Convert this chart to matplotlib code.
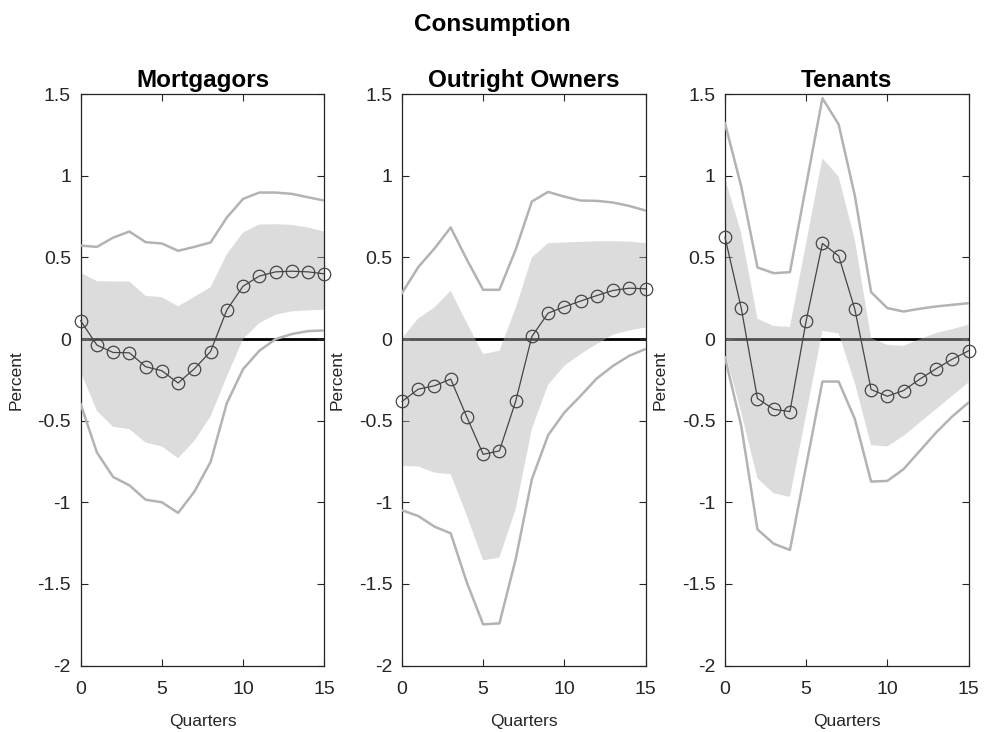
import matplotlib
matplotlib.use("Agg")
import matplotlib.pyplot as plt
import numpy as np
from matplotlib.ticker import FuncFormatter

plt.rcParams['font.family'] = ['Liberation Sans', 'DejaVu Sans']
plt.rcParams['axes.unicode_minus'] = False

quarters = list(range(16))
titles = ["Mortgagors", "Outright Owners", "Tenants"]

mort_mean = [0.112, -0.037, -0.082, -0.084, -0.169, -0.194, -0.269, -0.182, -0.076, 0.178, 0.324, 0.386, 0.412, 0.416, 0.412, 0.400]
mort_hi90 = [0.573, 0.565, 0.622, 0.659, 0.594, 0.586, 0.541, 0.565, 0.592, 0.745, 0.859, 0.898, 0.898, 0.890, 0.869, 0.849]
mort_hi68 = [0.406, 0.355, 0.353, 0.353, 0.265, 0.257, 0.200, 0.259, 0.318, 0.520, 0.653, 0.702, 0.704, 0.700, 0.684, 0.659]
mort_lo68 = [-0.20, -0.44, -0.538, -0.552, -0.634, -0.658, -0.730, -0.624, -0.474, -0.23, 0.0, 0.098, 0.149, 0.17, 0.176, 0.18]
mort_lo90 = [-0.399, -0.695, -0.845, -0.896, -0.984, -1.0, -1.065, -0.935, -0.753, -0.393, -0.184, -0.072, 0.0, 0.031, 0.049, 0.053]

own_mean = [-0.382, -0.307, -0.286, -0.245, -0.479, -0.706, -0.685, -0.382, 0.016, 0.159, 0.198, 0.233, 0.267, 0.298, 0.312, 0.308]
own_hi90 = [0.282, 0.441, 0.555, 0.684, 0.486, 0.302, 0.302, 0.547, 0.843, 0.902, 0.873, 0.849, 0.847, 0.837, 0.816, 0.788]
own_hi68 = [0.004, 0.127, 0.194, 0.296, 0.098, -0.092, -0.071, 0.19, 0.5, 0.588, 0.592, 0.596, 0.6, 0.6, 0.598, 0.588]
own_lo68 = [-0.777, -0.781, -0.818, -0.828, -1.084, -1.356, -1.339, -1.043, -0.55, -0.28, -0.164, -0.092, -0.031, 0.027, 0.053, 0.071]
own_lo90 = [-1.049, -1.084, -1.149, -1.19, -1.493, -1.748, -1.742, -1.35, -0.859, -0.589, -0.45, -0.348, -0.241, -0.164, -0.102, -0.061]

ten_mean = [0.624, 0.190, -0.364, -0.43, -0.444, 0.112, 0.586, 0.510, 0.182, -0.309, -0.35, -0.315, -0.245, -0.182, -0.123, -0.072]
ten_hi90 = [1.322, 0.935, 0.439, 0.404, 0.41, 0.943, 1.476, 1.316, 0.878, 0.288, 0.19, 0.169, 0.186, 0.2, 0.21, 0.22]
ten_hi68 = [0.986, 0.649, 0.125, 0.08, 0.075, 0.59, 1.108, 0.996, 0.608, 0.006, -0.035, -0.041, 0.0, 0.037, 0.061, 0.088]
ten_lo68 = [-0.08, -0.45, -0.853, -0.945, -0.967, -0.46, 0.05, 0.035, -0.27, -0.65, -0.658, -0.593, -0.511, -0.429, -0.348, -0.266]
ten_lo90 = [-0.112, -0.532, -1.166, -1.254, -1.292, -0.777, -0.26, -0.26, -0.49, -0.873, -0.869, -0.797, -0.685, -0.573, -0.474, -0.389]

panels = [
    (mort_mean, mort_hi90, mort_hi68, mort_lo68, mort_lo90),
    (own_mean, own_hi90, own_hi68, own_lo68, own_lo90),
    (ten_mean, ten_hi90, ten_hi68, ten_lo68, ten_lo90),
]

W, H = 985, 732
fig = plt.figure(figsize=(W / 100, H / 100), dpi=100)
lefts = [80.7, 402.0, 725.0]
axw = 243.5
top_px, bot_px = 94.3, 665.5

axis_col = '#262626'
fmt = FuncFormatter(lambda v, p: ('%g' % v))

for i, (mean, hi90, hi68, lo68, lo90) in enumerate(panels):
    ax = fig.add_axes([lefts[i] / W, (H - bot_px) / H, axw / W, (bot_px - top_px) / H])
    ax.plot([0, 15], [0, 0], color='black', lw=2.0, zorder=1)
    ax.fill_between(quarters, lo68, hi68, facecolor=(0.7, 0.7, 0.7), alpha=0.45,
                    edgecolor='none', zorder=2)
    ax.plot(quarters, hi90, color='#b3b3b3', lw=1.8, zorder=3)
    ax.plot(quarters, lo90, color='#b3b3b3', lw=1.8, zorder=3)
    ax.plot(quarters, mean, color='#454545', lw=0.9, marker='o', markersize=9,
            markerfacecolor='none', markeredgecolor='#454545', markeredgewidth=0.9,
            zorder=4, clip_on=False)
    ax.set_xlim(0, 15)
    ax.set_ylim(-2, 1.5)
    ax.set_xticks([0, 5, 10, 15])
    ax.set_yticks([-2, -1.5, -1, -0.5, 0, 0.5, 1, 1.5])
    ax.yaxis.set_major_formatter(fmt)
    ax.tick_params(direction='in', length=5, width=0.8, top=True, right=True,
                   labelsize=14, colors=axis_col)
    ax.tick_params(axis='x', pad=11)
    ax.tick_params(axis='y', pad=7)
    for sp in ax.spines.values():
        sp.set_color(axis_col)
        sp.set_linewidth(0.9)
    ax.set_title(titles[i], fontsize=17.5, fontweight='bold', pad=5)
    ax.set_xlabel('Quarters', fontsize=12.5, color=axis_col, labelpad=12)
    ax.set_ylabel('Percent', fontsize=12.5, color=axis_col, labelpad=10)

fig.text(0.5, 1 - 24 / H, 'Consumption', ha='center', va='center',
         fontsize=17.5, fontweight='bold')

fig.savefig('out.png', dpi=100)
